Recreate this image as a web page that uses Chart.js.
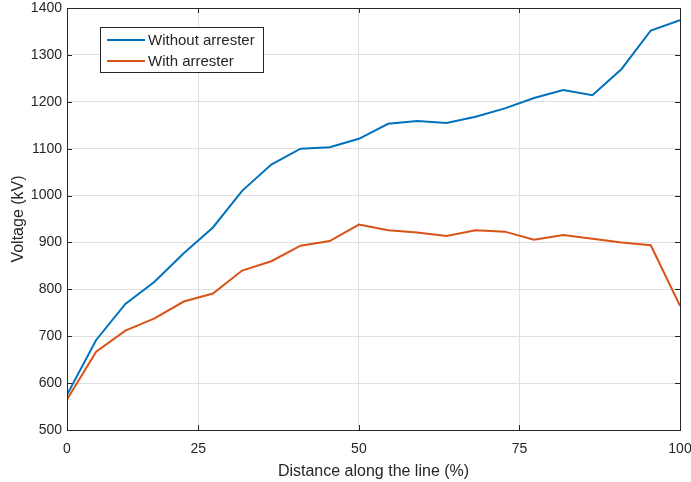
<!DOCTYPE html>
<html>
<head>
<meta charset="utf-8">
<script src="https://cdn.jsdelivr.net/npm/chart.js@4/dist/chart.umd.min.js"></script>
<style>
  body { margin: 0; background: #fff; }
  canvas { display: block; }
</style>
</head>
<body>
<canvas id="chart" width="691" height="482"></canvas>
<script>
// distance along the line (%), 22 equally spaced points
const distance = [4.55, 9.09, 13.64, 18.18, 22.73, 27.27, 31.82, 36.36, 40.91, 45.45, 50,
                  54.55, 59.09, 63.64, 68.18, 72.73, 77.27, 81.82, 86.36, 90.91, 95.45, 100];
const withoutArrester = [575, 692, 769, 816, 877, 932, 1010, 1066, 1100, 1103, 1121,
                         1153, 1159, 1155, 1168, 1186, 1208, 1225, 1214, 1270, 1352, 1374];
const withArrester = [565, 667, 712, 738, 774, 791, 840, 860, 893, 903, 938,
                      926, 921, 914, 926, 923, 906, 916, 908, 900, 894, 765];
const seriesNames = ['Without arrester', 'With arrester'];
const xTickValues = [4.55, 25, 50, 75, 100];
const xTickLabels = ['0', '25', '50', '75', '100'];

const axisColor = '#262626';
const gridColor = '#e0e0e0';
const fontFamily = '"Liberation Sans", Arial, Helvetica, sans-serif';

// box around the plot + inward ticks, like matlab
const boxPlugin = {
  id: 'box',
  afterDatasetsDraw(chart) {
    const { ctx, chartArea: a, scales } = chart;
    const len = 5;
    ctx.save();
    ctx.strokeStyle = axisColor;
    ctx.lineWidth = 1;
    ctx.beginPath();
    scales.x.ticks.forEach(t => {
      const x = Math.round(scales.x.getPixelForValue(t.value)) + 0.5;
      ctx.moveTo(x, a.bottom); ctx.lineTo(x, a.bottom - len);
      ctx.moveTo(x, a.top); ctx.lineTo(x, a.top + len);
    });
    scales.y.ticks.forEach(t => {
      const y = Math.round(scales.y.getPixelForValue(t.value)) + 0.5;
      ctx.moveTo(a.left, y); ctx.lineTo(a.left + len, y);
      ctx.moveTo(a.right, y); ctx.lineTo(a.right - len, y);
    });
    ctx.stroke();
    ctx.strokeRect(Math.round(a.left) + 0.5, Math.round(a.top) + 0.5,
                   Math.round(a.right - a.left), Math.round(a.bottom - a.top));
    ctx.restore();
  }
};

// legend box in the upper left corner of the plot
const legendPlugin = {
  id: 'boxLegend',
  afterDraw(chart) {
    const { ctx } = chart;
    const x = 100.5, y = 27.5, w = 163, h = 45;
    ctx.save();
    ctx.fillStyle = '#fff';
    ctx.fillRect(x, y, w, h);
    ctx.strokeStyle = axisColor;
    ctx.lineWidth = 1;
    ctx.strokeRect(x, y, w, h);
    ctx.font = '15px ' + fontFamily;
    ctx.textBaseline = 'middle';
    chart.data.datasets.forEach((ds, i) => {
      const ly = 40 + i * 21;
      ctx.strokeStyle = ds.borderColor;
      ctx.lineWidth = 2;
      ctx.beginPath();
      ctx.moveTo(107, ly);
      ctx.lineTo(145, ly);
      ctx.stroke();
      ctx.fillStyle = axisColor;
      ctx.fillText(ds.label, 148, ly + 1);
    });
    ctx.restore();
  }
};

new Chart(document.getElementById('chart'), {
  type: 'line',
  data: {
    datasets: [
      {
        label: seriesNames[0],
        data: distance.map((d, i) => ({ x: d, y: withoutArrester[i] })),
        borderColor: '#0072BD',
        borderWidth: 2,
        pointRadius: 0,
        tension: 0
      },
      {
        label: seriesNames[1],
        data: distance.map((d, i) => ({ x: d, y: withArrester[i] })),
        borderColor: '#D95319',
        borderWidth: 2,
        pointRadius: 0,
        tension: 0
      }
    ]
  },
  options: {
    responsive: false,
    animation: false,
    layout: { padding: { top: 8, right: 11, left: 0, bottom: 0 } },
    plugins: {
      legend: { display: false },
      tooltip: { enabled: false }
    },
    scales: {
      x: {
        type: 'linear',
        min: xTickValues[0],
        max: 100,
        afterBuildTicks: s => { s.ticks = xTickValues.map(v => ({ value: v })); },
        afterFit: s => {
          s.height = 52;
          s.paddingLeft = 0;
          s.paddingRight = 0;
        },
        ticks: {
          padding: 11,
          color: axisColor,
          font: { family: fontFamily, size: 14 },
          callback: (v) => xTickLabels[xTickValues.indexOf(v)]
        },
        grid: { color: gridColor, drawTicks: false },
        border: { display: false },
        title: {
          display: true,
          text: 'Distance along the line (%)',
          color: axisColor,
          font: { family: fontFamily, size: 16 },
          padding: { top: 0, bottom: 1 }
        }
      },
      y: {
        min: 500,
        max: 1400,
        afterFit: s => {
          s.width = 67;
          s.paddingTop = 0;
          s.paddingBottom = 0;
        },
        ticks: {
          stepSize: 100,
          padding: 5,
          color: axisColor,
          font: { family: fontFamily, size: 14 },
          callback: v => String(v)
        },
        grid: { color: gridColor, drawTicks: false },
        border: { display: false },
        title: {
          display: true,
          text: 'Voltage (kV)',
          color: axisColor,
          font: { family: fontFamily, size: 16 },
          padding: { top: 9, bottom: 0 }
        }
      }
    }
  },
  plugins: [boxPlugin, legendPlugin]
});
</script>
</body>
</html>
